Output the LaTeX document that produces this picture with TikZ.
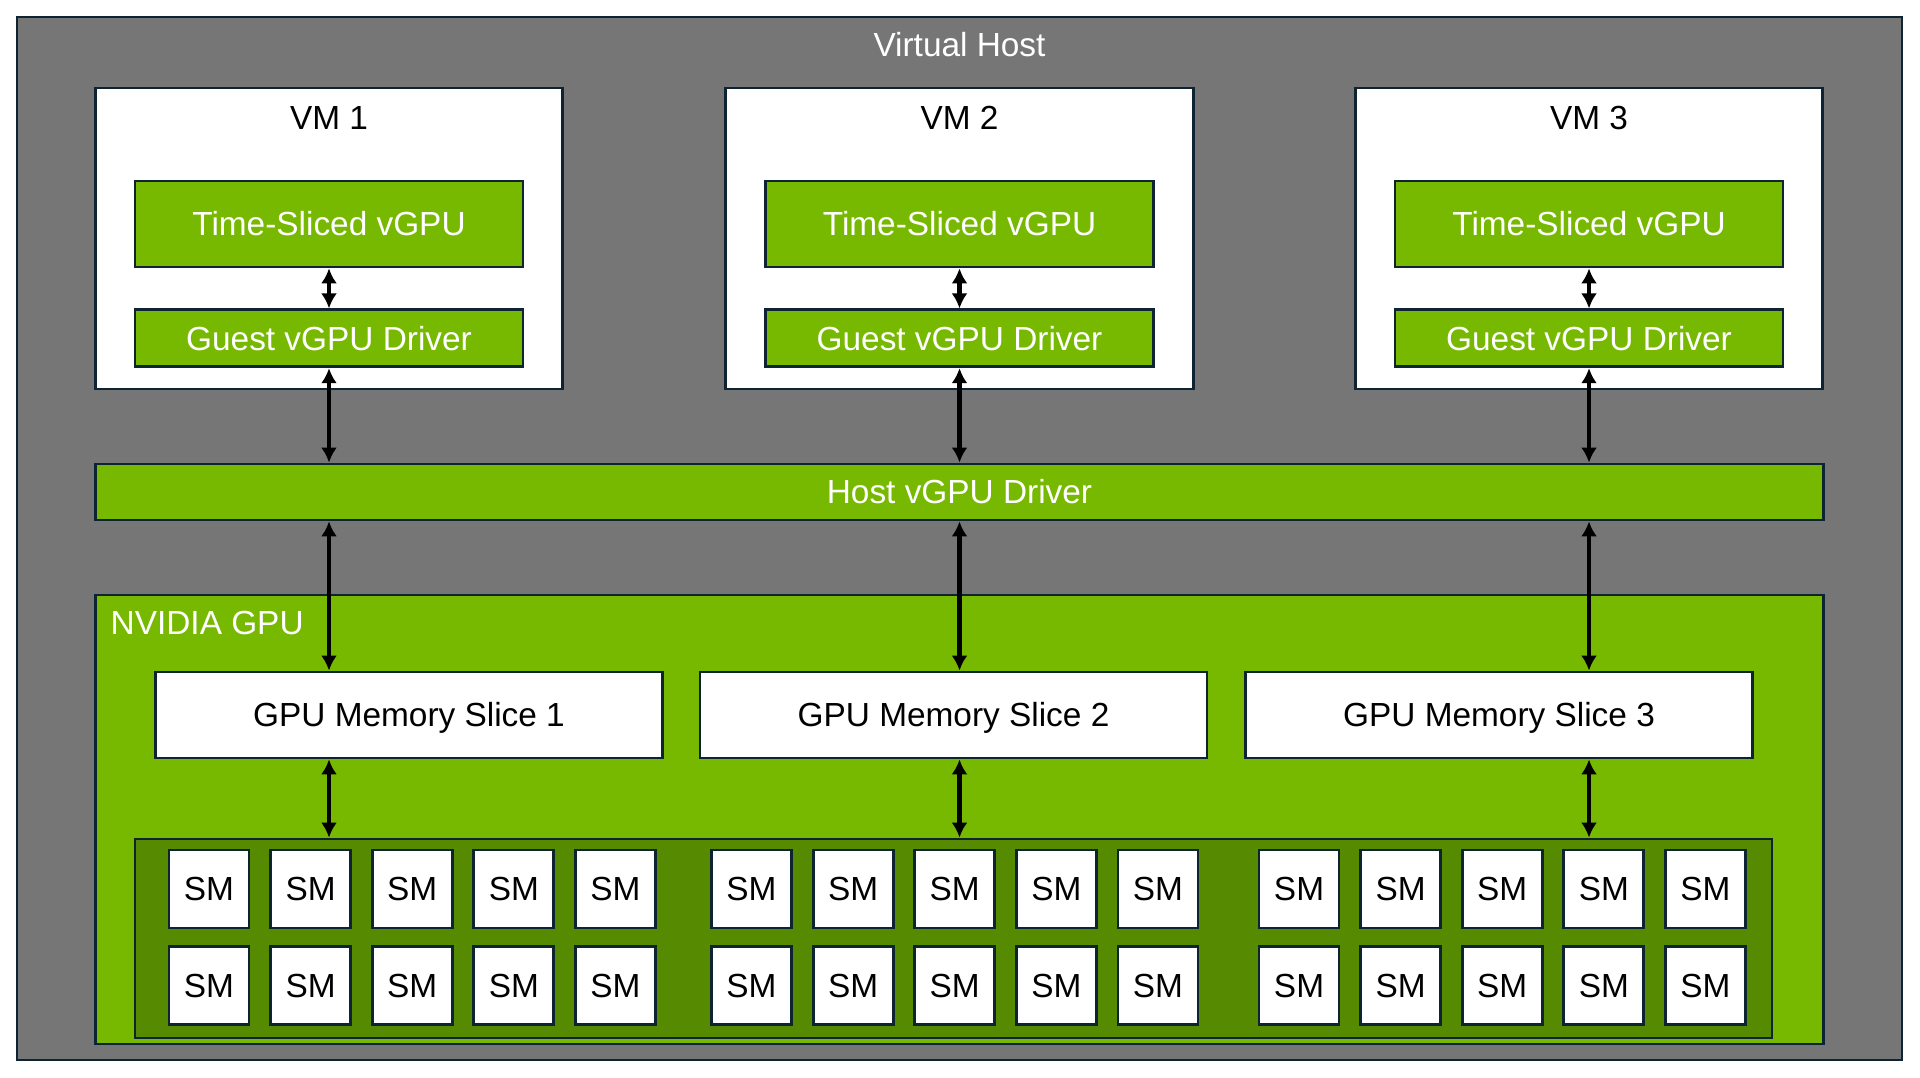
\documentclass[tikz,border=0pt]{standalone}
\usepackage{fontspec}
\setmainfont{Liberation Sans}
\usetikzlibrary{positioning,arrows.meta}
\definecolor{hostgray}{HTML}{767676}
\definecolor{nvgreen}{HTML}{76B900}
\definecolor{smgreen}{HTML}{568A00}
\definecolor{edgenavy}{HTML}{0F2433}

\begin{document}
\begin{tikzpicture}[
    box/.style={rectangle, draw=edgenavy, line width=0.8pt, inner sep=0pt, text height=6.8pt, text depth=0pt, font=\fontsize{9.5}{11}\selectfont},
    greenbox/.style={box, fill=nvgreen, text=white},
    whitebox/.style={box, fill=white, text=black},
    sm/.style={whitebox, minimum width=0.8cm, minimum height=0.78cm},
    caption/.style={inner sep=0pt, text height=6.8pt, text depth=0pt, font=\fontsize{9.5}{11}\selectfont},
    link/.style={<->, >={Latex[length=1.5mm,width=1.6mm]}, line width=1.3pt, black},
    node distance=0.4cm
]
    \useasboundingbox (0,0) rectangle (19.2,-10.78);

    % Virtual host
    \node[box, fill=hostgray, minimum width=18.85cm, minimum height=10.43cm] (vhost) at (9.595,-5.385) {};
    \node[caption, text=white] (vhosttitle) at (9.595,-0.45) {Virtual Host};

    % VMs
    \foreach \i/\x in {1/3.29,2/9.595,3/15.89} {
        \node[whitebox, minimum width=4.675cm, minimum height=3.01cm] (vm\i) at (\x,-2.385) {};
        \node[caption] (vmtitle\i) at (\x,-1.175) {VM \i};
        \node[greenbox, minimum width=3.88cm, minimum height=0.86cm] (tsv\i) at (\x,-2.24) {Time-Sliced vGPU};
        \node[greenbox, minimum width=3.88cm, minimum height=0.57cm, below=of tsv\i] (guest\i) {Guest vGPU Driver};
    }

    % Host driver
    \node[greenbox, minimum width=17.275cm, minimum height=0.56cm] (host) at (9.595,-4.92) {Host vGPU Driver};

    % GPU
    \node[greenbox, minimum width=17.275cm, minimum height=4.49cm] (gpu) at (9.595,-8.195) {};
    \node[caption, text=white, anchor=west] (gpulabel) at (1.10,-6.23) {NVIDIA GPU};

    % Memory slices
    \foreach \i/\x in {1/4.09,2/9.535,3/14.99}
        \node[whitebox, minimum width=5.07cm, minimum height=0.86cm] (mem\i) at (\x,-7.15) {GPU Memory Slice \i};

    % SMs
    \node[box, fill=smgreen, minimum width=16.37cm, minimum height=1.99cm] (smbox) at (9.535,-9.385) {};
    \foreach \g/\gx in {1/2.09,2/7.515,3/12.99}
        \foreach \c in {1,...,5}
            \foreach \r/\ry in {1/-8.89,2/-9.855}
                \node[sm] (sm\g\c\r) at ({\gx+(\c-1)*1.016},\ry) {SM};

    % Links
    \foreach \i in {1,2,3} {
        \draw[link] (tsv\i) -- (guest\i);
        \draw[link] (guest\i) -- (guest\i |- host.north);
        \draw[link] (host.south -| guest\i) -- (mem\i.north -| guest\i);
        \draw[link] (mem\i.south -| guest\i) -- (smbox.north -| guest\i);
    }
\end{tikzpicture}
\end{document}
